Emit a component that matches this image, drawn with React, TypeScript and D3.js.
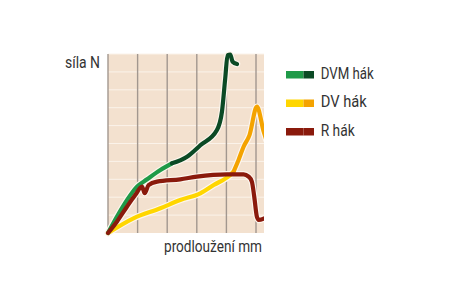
import React from "react";
import * as d3 from "d3";

type P = [number, number];

const dvmLight: P[] = [[0, 0], [0.3, 0.91], [0.64, 1.84], [0.98, 2.59], [1.32, 3.0], [1.77, 3.52], [2.16, 3.89]];
const dvmDark: P[] = [[2.16, 3.89], [2.67, 4.26], [3.12, 4.9], [3.68, 5.75], [3.85, 6.78], [3.96, 8.64], [4.04, 9.94], [4.13, 9.97], [4.21, 9.57], [4.36, 9.44]];
const dvYellow: P[] = [[0, 0], [0.86, 0.82], [1.77, 1.38], [2.44, 1.84], [3.12, 2.22], [3.57, 2.68], [4.13, 3.24], [4.24, 3.42]];
const dvOrange: P[] = [[4.24, 3.42], [4.41, 4.08], [4.58, 4.82], [4.78, 5.47], [5.03, 7.06], [5.26, 5.66], [5.35, 5.2]];
const rHak: P[] = [[0, 0], [0.3, 0.63], [0.64, 1.47], [0.92, 2.12], [1.15, 2.59], [1.24, 2.22], [1.37, 2.68], [1.66, 2.87], [2.44, 3.0], [3.0, 3.15], [4.02, 3.28], [4.58, 3.28], [4.75, 3.15], [4.86, 2.87], [4.94, 2.03], [5.03, 0.91], [5.09, 0.73], [5.31, 0.84]];

const xTicks = [0, 1, 2, 3, 4, 5];
const yTicks = [1, 2, 3, 4, 5, 6, 7, 8, 9, 10];

const legendItems = [
  { label: "DVM hák", c1: "#1f9a48", c2: "#0b4a25" },
  { label: "DV hák", c1: "#ffd600", c2: "#f4a300" },
  { label: "R hák", c1: "#8a1a0c", c2: "#8a1a0c" },
];

const FONT = "'Liberation Sans Narrow', 'Roboto', 'Liberation Sans', sans-serif";

export default function App() {
  const x = d3.scaleLinear().domain([0, 5.27]).range([108, 264]);
  const y = d3.scaleLinear().domain([0, 10]).range([233, 54]);
  const line = d3
    .line<P>()
    .x((d) => x(d[0]))
    .y((d) => y(d[1]))
    .curve(d3.curveMonotoneX);
  const series = [
    { d: dvYellow, c: "#ffd600" },
    { d: dvOrange, c: "#f4a300" },
    { d: dvmLight, c: "#1f9a48" },
    { d: dvmDark, c: "#0b4a25" },
    { d: rHak, c: "#8a1a0c" },
  ];
  return (
    <svg width={450} height={297} style={{ position: "absolute", left: 0, top: 0 }}>
      <defs>
        <clipPath id="plotclip">
          <rect x={90} y={40} width={174} height={200} />
        </clipPath>
      </defs>
      <rect x={x(0)} y={y(10)} width={x(5.27) - x(0)} height={y(0) - y(10)} fill="#f3e1cf" />
      {yTicks.map((t) => (
        <line key={"h" + t} x1={x(0)} x2={x(5.27)} y1={y(t)} y2={y(t)} stroke="#fbf3ea" strokeWidth={1} />
      ))}
      {xTicks.map((t) => (
        <line key={"v" + t} x1={x(t)} x2={x(t)} y1={y(0)} y2={y(10)} stroke="#a2978f" strokeWidth={1.4} />
      ))}
      <g clipPath="url(#plotclip)">
        {series.map((s, i) => (
          <path key={"w" + i} d={line(s.d) || ""} fill="none" stroke="#fdf6ee" strokeWidth={6.5} strokeLinejoin="round" strokeLinecap="round" />
        ))}
        {series.map((s, i) => (
          <path key={"s" + i} d={line(s.d) || ""} fill="none" stroke={s.c} strokeWidth={4.2} strokeLinejoin="round" strokeLinecap="round" />
        ))}
      </g>
      <text x={100} y={68} textAnchor="end" fontFamily={FONT} fontSize={16} fill="#333" textLength={35} lengthAdjust="spacingAndGlyphs">síla N</text>
      <text x={164} y={251.5} fontFamily={FONT} fontSize={16} fill="#333" textLength={98} lengthAdjust="spacingAndGlyphs">prodloužení mm</text>
      {legendItems.map((it, i) => {
        const yy = 71 + i * 28.5;
        const widths = [53, 46, 34];
        return (
          <g key={it.label}>
            <rect x={286} y={yy} width={17.5} height={7.5} fill={it.c1} />
            <rect x={303.5} y={yy} width={10.5} height={7.5} fill={it.c2} />
            <text x={320.7} y={yy + 7.5} fontFamily={FONT} fontSize={16} fill="#333" textLength={widths[i]} lengthAdjust="spacingAndGlyphs">{it.label}</text>
          </g>
        );
      })}
    </svg>
  );
}
